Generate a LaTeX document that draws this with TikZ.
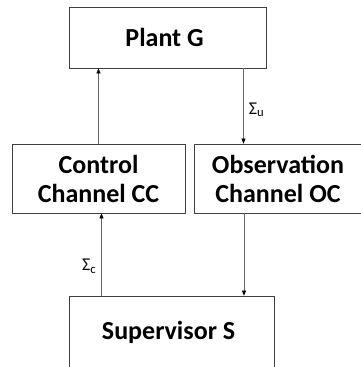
\documentclass[tikz,border=0pt]{standalone}
\usepackage{fontspec}
\setmainfont{Carlito}
\usetikzlibrary{arrows.meta}

\begin{document}
\begin{tikzpicture}
[
    x=1pt, y=-1pt,
    boxstyle/.style = {rectangle,
                       draw=black!75,
                       line width=0.7pt,
                       align=center,
                       inner sep=0pt,
                       font=\fontsize{26}{29}\selectfont\bfseries},
    arr/.style      = {draw=black!60,
                       line width=0.6pt,
                       -{Triangle[length=5pt,width=4pt,color=black]}},
    lbl/.style      = {font=\fontsize{18}{20}\selectfont, inner sep=5pt}
]
\useasboundingbox (0,0) rectangle (361,367);

\node (plant) [boxstyle, minimum width=197pt, minimum height=61pt] at (167.5,37.5) {
Plant G
};

\node (ctrl) [boxstyle, minimum width=173pt, minimum height=69pt] at (98.5,178.5) {
Control\\Channel CC
};

\node (obs) [boxstyle, minimum width=168pt, minimum height=69pt] at (278,178.5) {
Observation\\Channel OC
};

\node (sup) [boxstyle, minimum width=205pt, minimum height=72pt] at (171.5,332) {
Supervisor S
};

\draw[arr] (ctrl.north) -- (ctrl.north |- plant.south);
\draw[arr] ([xshift=76pt]plant.south) -- ([xshift=76pt]plant.south |- obs.north)
    node[lbl, pos=0.55, right] {Σ\textsubscript{u}};
\draw[arr] ([xshift=-70pt]sup.north) -- ([xshift=-70pt]sup.north |- ctrl.south)
    node[lbl, pos=0.36, left] {Σ\textsubscript{c}};
\draw[arr] ([xshift=-34pt]obs.south) -- ([xshift=-34pt]obs.south |- sup.north);

\end{tikzpicture}
\end{document}
